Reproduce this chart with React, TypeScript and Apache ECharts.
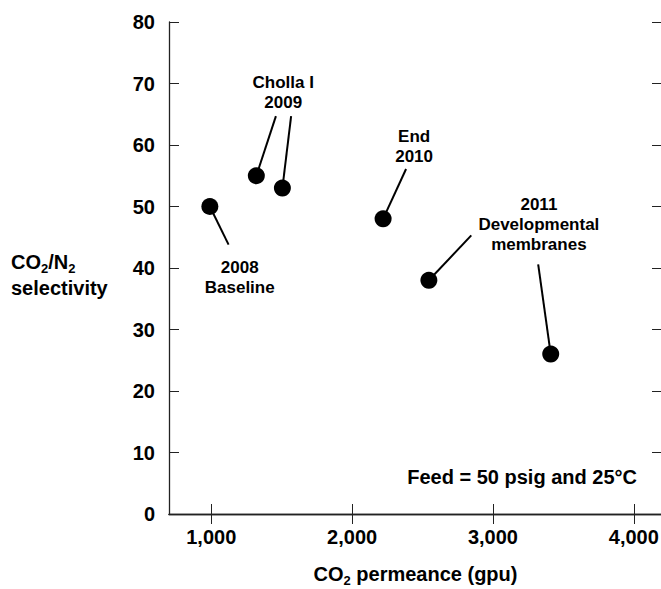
import React, { useEffect, useRef } from "react";
import * as echarts from "echarts";

// Membrane performance points: CO2 permeance (gpu) vs CO2/N2 selectivity
const permeance = [990, 1320, 1505, 2220, 2545, 3410];
const selectivity = [50, 55, 53, 48, 38, 26];

// Far ends of the leader lines, one per point (data units)
const leaderEndX = [1123, 1459, 1567, 2383, 2846, 3321];
const leaderEndY = [43.8, 64.7, 64.7, 56.1, 45.3, 40.6];

// Annotation blocks (centre positions in data units)
const noteText = ["2008\nBaseline", "Cholla I\n2009", "End\n2010", "2011\nDevelopmental\nmembranes"];
const noteX = [1202, 1511, 2440, 3326];
const noteY = [38.5, 68.6, 59.8, 47];

const xTicks = [1000, 2000, 3000, 4000];
const xMin = 700;
const xMax = 4200;
const yMin = 0;
const yMax = 80;
const yStep = 10;

const FONT = "'Liberation Sans', Arial, Helvetica, sans-serif";
const INK = "#000";
const AXIS = "#222";

export default function App() {
  const ref = useRef<HTMLDivElement>(null);

  useEffect(() => {
    if (!ref.current) return;
    const chart = echarts.init(ref.current, null, { renderer: "svg" });

    const leaderSeries = permeance.map((x, i) => ({
      type: "line" as const,
      data: [
        [x, selectivity[i]],
        [leaderEndX[i], leaderEndY[i]],
      ],
      symbol: "none",
      lineStyle: { color: INK, width: 2 },
      silent: true,
      z: 2,
    }));

    const tickFmt = (v: number) => v.toLocaleString("en-US");

    chart.setOption({
      animation: false,
      grid: { left: 169, top: 22, width: 493, height: 492, containLabel: false, outerBoundsMode: "none" },
      xAxis: [
        {
          type: "value",
          min: xMin,
          max: xMax,
          position: "bottom",
          axisLine: { show: true, lineStyle: { color: AXIS, width: 1.3 } },
          axisTick: { show: true, inside: true, length: 10, customValues: xTicks, lineStyle: { color: AXIS } },
          axisLabel: {
            customValues: xTicks,
            formatter: tickFmt,
            fontFamily: FONT,
            fontWeight: "bold",
            fontSize: 20,
            color: INK,
            margin: 13,
          },
          splitLine: { show: false },
          name: "{n|CO}{s|2}{n| permeance (gpu)}",
          nameLocation: "middle",
          nameGap: 45,
          nameTextStyle: {
            rich: {
              n: { fontFamily: FONT, fontWeight: "bold", fontSize: 20, color: INK, lineHeight: 30, verticalAlign: "middle" },
              s: { fontFamily: FONT, fontWeight: "bold", fontSize: 13, color: INK, lineHeight: 30, verticalAlign: "bottom", padding: [0, 0, 2, 0] },
            },
          },
        },
        {
          type: "value",
          min: xMin,
          max: xMax,
          position: "top",
          axisLine: { show: true, lineStyle: { color: AXIS, width: 1.3 } },
          axisTick: { show: true, inside: true, length: 10, customValues: xTicks, lineStyle: { color: AXIS } },
          axisLabel: { show: false },
          splitLine: { show: false },
        },
      ],
      yAxis: [
        {
          type: "value",
          min: yMin,
          max: yMax,
          interval: yStep,
          position: "left",
          axisLine: { show: true, lineStyle: { color: AXIS, width: 1.3 } },
          axisTick: { show: true, inside: true, length: 10, lineStyle: { color: AXIS } },
          axisLabel: {
            fontFamily: FONT,
            fontWeight: "bold",
            fontSize: 20,
            color: INK,
            margin: 14,
          },
          splitLine: { show: false },
        },
        {
          type: "value",
          min: yMin,
          max: yMax,
          interval: yStep,
          position: "right",
          axisLine: { show: true, lineStyle: { color: AXIS, width: 1.3 } },
          axisTick: { show: true, inside: true, length: 10, lineStyle: { color: AXIS } },
          axisLabel: { show: false },
          splitLine: { show: false },
        },
      ],
      graphic: [
        {
          type: "text",
          left: 11,
          top: 252,
          style: {
            text: "{n|CO}{s|2}{n|/N}{s|2}\n{n|selectivity}",
            align: "center",
            rich: {
              n: { fontFamily: FONT, fontWeight: "bold", fontSize: 20, fill: INK, lineHeight: 26, verticalAlign: "middle" },
              s: { fontFamily: FONT, fontWeight: "bold", fontSize: 13, fill: INK, lineHeight: 26, verticalAlign: "bottom" },
            },
          },
        },
        {
          type: "text",
          right: 24,
          top: 467,
          style: {
            text: "Feed = 50 psig and 25°C",
            fontFamily: FONT,
            fontWeight: "bold",
            fontSize: 20,
            fill: INK,
          },
        },
      ],
      series: [
        ...leaderSeries,
        {
          type: "scatter",
          data: permeance.map((x, i) => [x, selectivity[i]]),
          symbol: "circle",
          symbolSize: 17,
          itemStyle: { color: INK, opacity: 1 },
          z: 5,
        },
        {
          type: "scatter",
          data: noteX.map((x, i) => ({ value: [x, noteY[i]], label: { formatter: noteText[i] } })),
          symbolSize: 0,
          silent: true,
          itemStyle: { opacity: 1 },
          label: {
            show: true,
            position: "inside",
            fontFamily: FONT,
            fontWeight: "bold",
            fontSize: 17,
            lineHeight: 20,
            color: INK,
            opacity: 1,
            align: "center",
          },
          z: 6,
        },
      ],
    });

    return () => chart.dispose();
  }, []);

  return (
    <div
      ref={ref}
      style={{ position: "fixed", left: 0, top: 0, width: 661, height: 589, background: "#fff" }}
    />
  );
}
